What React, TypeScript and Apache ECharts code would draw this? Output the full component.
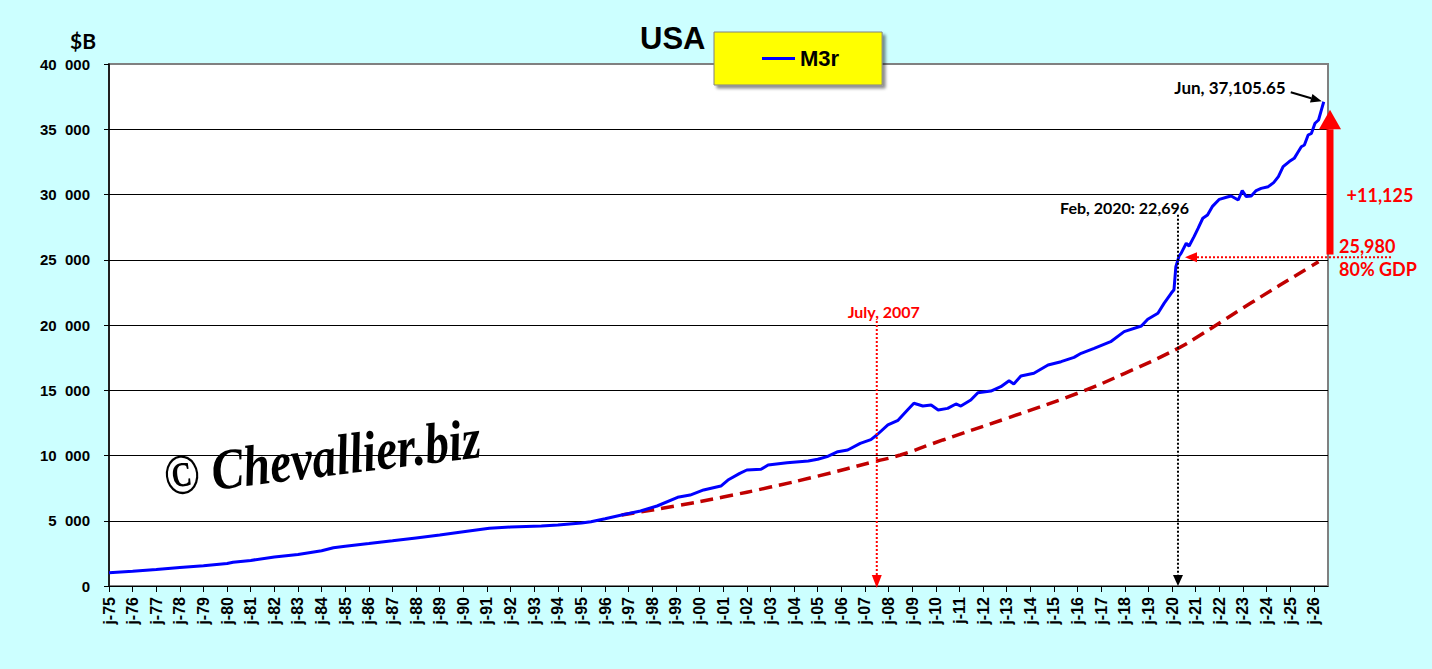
import React, { useEffect, useRef } from 'react';
import * as echarts from 'echarts';

// M3r (billions of $), [year fraction]
const m3Years = [
  1975.0, 1976.0, 1977.0, 1978.0, 1979.0, 1980.0, 1980.25, 1981.0, 1982.0, 1983.0,
  1984.0, 1984.5, 1985.0, 1986.0, 1987.0, 1988.0, 1989.0, 1990.0, 1991.1, 1992.0,
  1993.3, 1994.0, 1995.0, 1995.4, 1996.0, 1996.7, 1997.5, 1998.2, 1999.07, 1999.6,
  2000.17, 2000.9, 2001.2, 2001.7, 2002.0, 2002.6, 2002.9, 2003.7, 2004.6, 2005.0,
  2005.4, 2005.85, 2006.27, 2006.8, 2007.25, 2007.5, 2007.97, 2008.4, 2008.8, 2009.07,
  2009.45, 2009.8, 2010.1, 2010.5, 2010.85, 2011.06, 2011.48, 2011.78, 2012.33, 2012.75,
  2013.1, 2013.3, 2013.6, 2014.15, 2014.75, 2015.3, 2015.85, 2016.15, 2016.7, 2017.4,
  2017.97, 2018.7, 2018.97, 2019.4, 2019.66, 2019.96, 2020.08, 2020.16, 2020.3, 2020.38,
  2020.6, 2020.72, 2020.93, 2021.1, 2021.3, 2021.5, 2021.7, 2022.0, 2022.3, 2022.5,
  2022.8, 2022.97, 2023.14, 2023.35, 2023.56, 2023.77, 2024.07, 2024.3, 2024.5, 2024.7,
  2024.96, 2025.17, 2025.34, 2025.47, 2025.6, 2025.76, 2025.9, 2026.05, 2026.2, 2026.3,
  2026.42,
];
const m3Values = [
  1020, 1130, 1270, 1420, 1560, 1720, 1816, 1960, 2230, 2420,
  2700, 2935, 3050, 3250, 3460, 3680, 3900, 4150, 4420, 4520,
  4600, 4680, 4820, 4930, 5150, 5440, 5750, 6130, 6800, 6970,
  7360, 7660, 8120, 8630, 8890, 8940, 9270, 9450, 9580, 9710,
  9910, 10290, 10420, 10930, 11220, 11570, 12340, 12700, 13490, 14000,
  13790, 13870, 13490, 13610, 13950, 13790, 14250, 14810, 14940, 15270,
  15730, 15480, 16090, 16300, 16940, 17190, 17520, 17830, 18210, 18720,
  19490, 19920, 20440, 20900, 21660, 22430, 22700, 24470, 25300, 25490,
  26260, 26050, 26770, 27410, 28180, 28430, 29070, 29630, 29790, 29890,
  29580, 30300, 29840, 29890, 30300, 30470, 30600, 30910, 31370, 32130,
  32520, 32770, 33280, 33660, 33790, 34560, 34690, 35460, 35710, 36350,
  37105.65,
];

// dashed trend (dark red)
const trendYears = [1996.7, 1999.0, 2001.0, 2003.0, 2005.0, 2007.4, 2008.5, 2010.3, 2013.0, 2016.0, 2018.0, 2020.25, 2021.2, 2023.35, 2025.76, 2026.2];
const trendValues = [5440, 6140, 6820, 7580, 8420, 9530, 10040, 11190, 12850, 14770, 16300, 18210, 19230, 21700, 24370, 24850];

const xMin = 1975;
const xMax = 2026.6;
const yMin = 0;
const yMax = 40000;
const yStep = 5000;

// annotation anchors (data space)
const julyYear = 2007.5;
const julyTop = 20300;
const febYear = 2020.25;
const febTop = 28450;
const gdpLevel = 25200;
const bigArrowBottom = 25400;
const bigArrowHeadBase = 35000;
const bigArrowTip = 36500;

const lastYear = m3Years[m3Years.length - 1];
const lastValue = m3Values[m3Values.length - 1];

const ARIAL = 'Liberation Sans';
const CAL = 'Lato';

export default function App() {
  const ref = useRef<HTMLDivElement>(null);

  useEffect(() => {
    const chart = echarts.init(ref.current as HTMLDivElement, null, { renderer: 'svg' });
    const option: any = {
      animation: false,
      backgroundColor: '#CCFFFF',
      title: {
        text: 'USA',
        left: 640,
        top: 23,
        padding: 0,
        textStyle: { fontFamily: ARIAL, fontWeight: 'bold', fontSize: 31, color: '#000' },
      },
      legend: {
        left: 714,
        top: 32,
        padding: [15, 43, 15, 48],
        data: [{ name: 'M3r', icon: 'rect' }],
        itemWidth: 33,
        itemHeight: 3,
        selectedMode: false,
        backgroundColor: '#FFFF00',
        borderColor: '#808080',
        borderWidth: 1,
        shadowBlur: 3,
        shadowColor: 'rgba(0,0,0,0.45)',
        shadowOffsetX: 3,
        shadowOffsetY: 3,
        textStyle: { fontFamily: ARIAL, fontWeight: 'bold', fontSize: 22, color: '#000', lineHeight: 23 },
      },
      grid: {
        left: 109,
        right: 104,
        top: 64,
        bottom: 83,
        show: true,
        backgroundColor: '#FFFFFF',
        borderColor: '#808080',
        borderWidth: 2,
      },
      xAxis: {
        type: 'value',
        min: xMin,
        max: xMax,
        interval: 1,
        axisLine: { show: true, lineStyle: { color: '#000', width: 1 } },
        axisTick: { show: true, length: 6, lineStyle: { color: '#000' } },
        splitLine: { show: false },
        axisLabel: {
          rotate: 90,
          margin: 11,
          fontFamily: ARIAL,
          fontWeight: 'bold',
          fontSize: 16,
          color: '#000',
          showMaxLabel: false,
          formatter: (v: number) => {
            const r = Math.round(v);
            if (Math.abs(v - r) > 1e-6) return '';
            return 'j-' + String(r).slice(2);
          },
        },
      },
      yAxis: {
        type: 'value',
        min: yMin,
        max: yMax,
        interval: yStep,
        axisLine: { show: true, lineStyle: { color: '#000', width: 1.5 } },
        axisTick: { show: true, length: 5, lineStyle: { color: '#000' } },
        splitLine: { show: true, showMaxLine: false, showMinLine: false, lineStyle: { color: '#000', width: 1 } },
        axisLabel: {
          margin: 19,
          fontFamily: ARIAL,
          fontWeight: 'bold',
          fontSize: 15,
          color: '#000',
          formatter: (v: number) => (v === 0 ? '0' : `${v / 1000}\u2007000`),
        },
      },
      series: [
        {
          name: 'M3r',
          type: 'line',
          data: m3Years.map((y, i) => [y, m3Values[i]]),
          showSymbol: false,
          symbol: 'none',
          color: '#0000FF',
          lineStyle: { color: '#0000FF', width: 3 },
          z: 3,
        },
        {
          name: 'trend',
          type: 'line',
          data: trendYears.map((y, i) => [y, trendValues[i]]),
          showSymbol: false,
          symbol: 'none',
          smooth: true,
          color: '#C00000',
          lineStyle: { color: '#C00000', width: 3.5, type: [13, 7] },
          z: 2,
        },
      ],
    };
    chart.setOption(option);

    const p = (x: number, y: number) => chart.convertToPixel({ seriesIndex: 0 }, [x, y]) as number[];
    const bottomY = p(xMin, 0)[1];
    const rightX = p(xMax, 0)[0];

    const g: any[] = [];
    const txt = (text: string, x: number, y: number, fill: string, font: string, align: string) => ({
      type: 'text',
      z: 100,
      style: {
        text, x, y, fill, font,
        textAlign: align, textVerticalAlign: 'middle',
        align, verticalAlign: 'middle',
      },
    });
    const line = (x1: number, y1: number, x2: number, y2: number, stroke: string, lineWidth: number, lineDash?: number[]) => ({
      type: 'line',
      z: 100,
      shape: { x1, y1, x2, y2 },
      style: { stroke, lineWidth, lineDash },
    });
    const poly = (points: number[][], fill: string) => ({
      type: 'polygon',
      z: 100,
      shape: { points },
      style: { fill },
    });

    // July 2007
    const jx = p(julyYear, 0)[0];
    const jTop = p(julyYear, julyTop)[1];
    g.push(line(jx, jTop, jx, bottomY - 10, '#FF0000', 2, [2, 2]));
    g.push(poly([[jx - 5, bottomY - 11], [jx + 5, bottomY - 11], [jx, bottomY + 2]], '#FF0000'));
    g.push(txt('July, 2007', jx + 7, jTop - 10, '#FF0000', `bold 16px ${CAL}`, 'center'));

    // Feb 2020
    const fx = p(febYear, 0)[0];
    const fTop = p(febYear, febTop)[1];
    g.push(line(fx, fTop, fx, bottomY - 10, '#000000', 2, [2, 2]));
    g.push(poly([[fx - 5, bottomY - 11], [fx + 5, bottomY - 11], [fx, bottomY]], '#000000'));
    g.push(txt('Feb, 2020: 22,696', fx + 11, fTop - 7, '#000000', `bold 16px ${CAL}`, 'right'));

    // 80% GDP horizontal arrow
    const gy = p(xMin, gdpLevel)[1];
    const headTipX = p(febYear, 0)[0] + 7;
    g.push(line(headTipX + 12, gy, rightX + 64, gy, '#FF0000', 2, [2, 2]));
    g.push(poly([[headTipX, gy], [headTipX + 12, gy - 5], [headTipX + 12, gy + 5]], '#FF0000'));

    // big red arrow
    const ax = rightX + 2;
    const aBottom = p(xMin, bigArrowBottom)[1];
    const aBase = p(xMin, bigArrowHeadBase)[1];
    const aTip = p(xMin, bigArrowTip)[1];
    g.push({ type: 'rect', z: 100, shape: { x: ax - 3.5, y: aBase, width: 7, height: aBottom - aBase }, style: { fill: '#FF0000' } });
    g.push(poly([[ax - 11, aBase], [ax + 11, aBase], [ax, aTip]], '#FF0000'));
    g.push(txt('+11,125', ax + 50, (aBottom + aBase) / 2 + 3, '#FF0000', `bold 18px ${CAL}`, 'center'));
    g.push(txt('25,980', ax + 9, gy - 11, '#FF0000', `bold 18px ${CAL}`, 'left'));
    g.push(txt('80% GDP', ax + 9, gy + 12, '#FF0000', `bold 18px ${CAL}`, 'left'));

    // Jun label + arrow
    const lp = p(lastYear, lastValue);
    const tip = [lp[0] - 2, lp[1] - 0.5];
    const start = [tip[0] - 31, tip[1] - 9];
    const dx = tip[0] - start[0];
    const dy = tip[1] - start[1];
    const len = Math.sqrt(dx * dx + dy * dy);
    const ux = dx / len;
    const uy = dy / len;
    const bx = tip[0] - 11 * ux;
    const by = tip[1] - 11 * uy;
    g.push(line(start[0], start[1], bx, by, '#000000', 2));
    g.push(poly([[tip[0], tip[1]], [bx - 4.5 * uy, by + 4.5 * ux], [bx + 4.5 * uy, by - 4.5 * ux]], '#000000'));
    g.push(txt('Jun, 37,105.65', start[0] - 5, start[1] - 5, '#000000', `bold 17px ${CAL}`, 'right'));

    // $B unit label
    g.push(txt('$B', 70, 40, '#000000', `bold 21px ${CAL}`, 'left'));

    // watermark
    g.push({
      type: 'text',
      z: 90,
      x: 322,
      y: 457,
      rotation: (7 * Math.PI) / 180,
      scaleY: 1.2,
      style: {
        text: '\u00A9 Chevallier.biz',
        x: 0,
        y: 0,
        fill: '#000000',
        font: 'italic bold 48px "Liberation Serif"',
        textAlign: 'center', textVerticalAlign: 'middle',
        align: 'center', verticalAlign: 'middle',
      },
    });

    chart.setOption({ graphic: g });

    return () => chart.dispose();
  }, []);

  return <div ref={ref} style={{ position: 'fixed', left: 0, top: 0, width: 1432, height: 669 }} />;
}
